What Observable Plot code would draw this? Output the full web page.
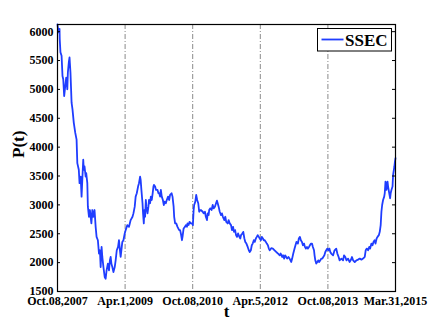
<!DOCTYPE html>
<html><head><meta charset="utf-8">
<script src="https://cdn.jsdelivr.net/npm/d3@7"></script>
<script src="https://cdn.jsdelivr.net/npm/@observablehq/plot@0.6"></script>
<style>body{margin:0;background:#fff}#chart svg{display:block}</style>
</head><body><div id="chart"></div>
<script>
// trading-day index t (0 = Oct 8, 2007; 1825 = Mar 31, 2015)
const tDays = [0,5,11,12,16,22,27,31,36,42,47,53,56,61,65,70,76,81,88,96,
103,107,115,119,125,130,134,139,142,146,152,155,161,164,170,175,183,188,193,200,
206,211,218,224,229,233,238,242,248,255,260,265,272,278,283,287,291,296,302,309,
314,320,327,332,337,341,347,350,356,363,368,377,386,
395,405,410,417,422,428,435,440,446,449,453,459,462,466,469,473,477,480,486,491,
494,500,504,509,514,518,521,527,532,540,545,549,554,558,563,569,574,579,585,590,
597,603,608,616,621,627,630,635,641,648,657,662,666,672,675,681,688,693,699,702,
708,713,720,726,731,735,738,744,749,754,760,765,771,
774,784,789,796,801,807,811,816,819,825,832,838,843,850,856,861,865,870,876,883,
888,893,901,906,911,919,924,930,937,942,948,953,959,964,969,975,982,987,991,998,
1003,1009,1014,1020,1027,1033,1038,1044,1049,1054,1060,1065,1071,1076,1081,1087,1092,1098,1103,1109,
1114,1119,1125,1130,1136,1141,1146,
1154,1163,1172,1181,1191,1200,1205,1213,1218,1224,1229,1235,1240,1247,1253,1258,1262,1267,1273,1280,
1285,1290,1298,1303,1309,1314,1320,1325,1331,1336,1341,1347,1352,1358,1363,1368,1374,1379,1385,1388,
1392,1397,1403,1408,1413,1419,1424,1430,1435,1441,1446,1451,1457,1462,1468,1473,
1478,1488,1496,1505,1511,1518,1523,1533,1542,1547,1554,1560,1569,1577,1583,1590,1596,1605,1614,1623,
1632,1641,1650,1659,1664,1670,1677,1683,1688,1695,1701,1706,1712,1717,1723,1728,1735,1740,1745,1749,
1753,1758,1764,1767,1771,1776,1782,1785,1791,1796,1799,1803,1809,1812,1819,1822,1825];
const ssec = [6124,5989,6047,5872,5641,5582,5233,5176,4885,5059,5205,5001,5292,5466,5553,5292,4770,4653,4421,4247,
4130,3724,3608,3376,3491,3143,3434,3782,3608,3665,3491,3550,3376,2969,2794,2911,2679,2911,2794,2911,
2620,2446,2388,2157,2214,1923,2272,2098,1923,1749,1721,1866,1983,1866,2040,2098,1983,1923,1836,1923,
2040,2214,2272,2388,2214,2098,2272,2359,2388,2505,2563,2650,2620,
2737,2794,2853,2969,3143,3202,3317,3376,3491,3434,3259,3028,2853,2679,2911,2794,3085,2969,2853,2969,
3085,3028,3143,3085,3202,3317,3346,3317,3259,3259,3202,3202,3143,3259,3143,3085,2998,3056,3028,3085,
3143,3085,3172,3202,3143,2969,2794,2679,2679,2620,2563,2563,2505,2388,2446,2592,2620,2650,2620,2679,
2650,2707,2679,2679,2650,2911,2998,3056,3172,3085,3028,2881,2911,
2911,2881,2853,2881,2794,2737,2853,2824,2911,2940,2911,2998,2940,2969,3028,3073,3028,2969,2881,2824,
2853,2794,2737,2794,2707,2679,2737,2679,2650,2563,2620,2533,2563,2476,2446,2505,2446,2418,2476,2505,
2533,2418,2359,2330,2272,2214,2185,2214,2301,2330,2388,2359,2418,2446,2476,2446,2418,2388,2446,2418,
2388,2388,2359,2330,2301,2243,2214,
2250,2243,2214,2185,2157,2127,2157,2098,2127,2070,2127,2098,2070,2098,2070,2040,2011,2070,2157,2243,
2301,2359,2330,2418,2446,2388,2359,2301,2330,2272,2243,2272,2243,2272,2301,2330,2330,2272,2214,2127,
2040,1983,2011,2040,2011,2040,2070,2070,2098,2127,2185,2214,2243,2214,2243,2185,
2157,2127,2214,2243,2157,2098,2040,2070,2040,2127,2098,2040,2070,2011,2040,2098,2040,2011,2040,2052,
2070,2052,2070,2098,2214,2243,2214,2272,2243,2330,2301,2359,2388,2330,2418,2446,2476,2533,2650,2881,
2998,3085,3143,3202,3404,3259,3404,3317,3202,3115,3202,3259,3317,3521,3665,3748,3811];
const xTickPos = [0,365,730,1095,1460,1825];
const xTickLabels = ["Oct.08,2007","Apr.1,2009","Oct.08,2010","Apr.5,2012","Oct.08,2013","Mar.31,2015"];
const yTicks = [1500,2000,2500,3000,3500,4000,4500,5000,5500,6000];
const yDomain = [1500,6124];
const seriesName = "SSEC";
const xLabel = "t";
const yLabel = "P(t)";

const data = tDays.map((t,i)=>({t, p: ssec[i]}));
const W = 436, H = 328, mL = 57, mR = 41, mT = 24, mB = 37;
const fw = W - mL - mR, fh = H - mT - mB;
const blue = "#1f3dff";
const font = "Liberation Serif";

const chart = Plot.plot({
  width: W, height: H,
  marginLeft: mL, marginRight: mR, marginTop: mT, marginBottom: mB,
  style: {background: "#fff", color: "#000"},
  x: {domain: [0,1825]},
  y: {domain: yDomain},
  marks: [
    Plot.ruleX(xTickPos.slice(1,-1), {stroke: "#8a8a8a", strokeWidth: 1, strokeDasharray: "5,2,1,2"}),
    Plot.line(data, {x: "t", y: "p", stroke: blue, strokeWidth: 1.8}),
    Plot.tickY(yTicks, {y: d=>d, stroke: "#000", insetRight: fw - 3}),
    Plot.tickY(yTicks, {y: d=>d, stroke: "#000", insetLeft: fw - 3}),
    Plot.frame({stroke: "#000", strokeWidth: 1.2}),
    Plot.axisY({ticks: yTicks, tickSize: 0, tickPadding: 4, label: null, tickFormat: d=>String(d)}),
    Plot.axisX({ticks: xTickPos, tickSize: 0, tickPadding: 5, label: null, tickFormat: d=>xTickLabels[xTickPos.indexOf(d)]}),
    Plot.text([yLabel], {text: d=>d, frameAnchor: "left", dx: -39, rotate: -90}),
    Plot.text([xLabel], {text: d=>d, frameAnchor: "bottom", dy: 25})
  ]
});
document.getElementById("chart").appendChild(chart);

const svg = d3.select(chart);
// serif bold text everywhere
svg.style("font-family", font).style("font-weight", "bold").style("font-size", "12px");
svg.selectAll("text").each(function() {
  const el = d3.select(this);
  const big = el.text() === xLabel || el.text() === yLabel;
  el.style("font-family", font).style("font-weight", "bold").style("font-size", big ? "17px" : "12px");
});

// legend
const lg = svg.append("g");
lg.append("rect").attr("x", 317.5).attr("y", 28.5).attr("width", 74).attr("height", 22.5)
  .attr("fill", "#fff").attr("stroke", "#000").attr("stroke-width", 1);
lg.append("line").attr("x1", 321.5).attr("x2", 343.5).attr("y1", 39.5).attr("y2", 39.5)
  .attr("stroke", blue).attr("stroke-width", 1.8);
lg.append("text").attr("x", 345).attr("y", 45.5).attr("text-anchor", "start").text(seriesName)
  .style("font-family", font).style("font-weight", "bold").style("font-size", "17px").attr("fill", "#000");
</script>
</body></html>
